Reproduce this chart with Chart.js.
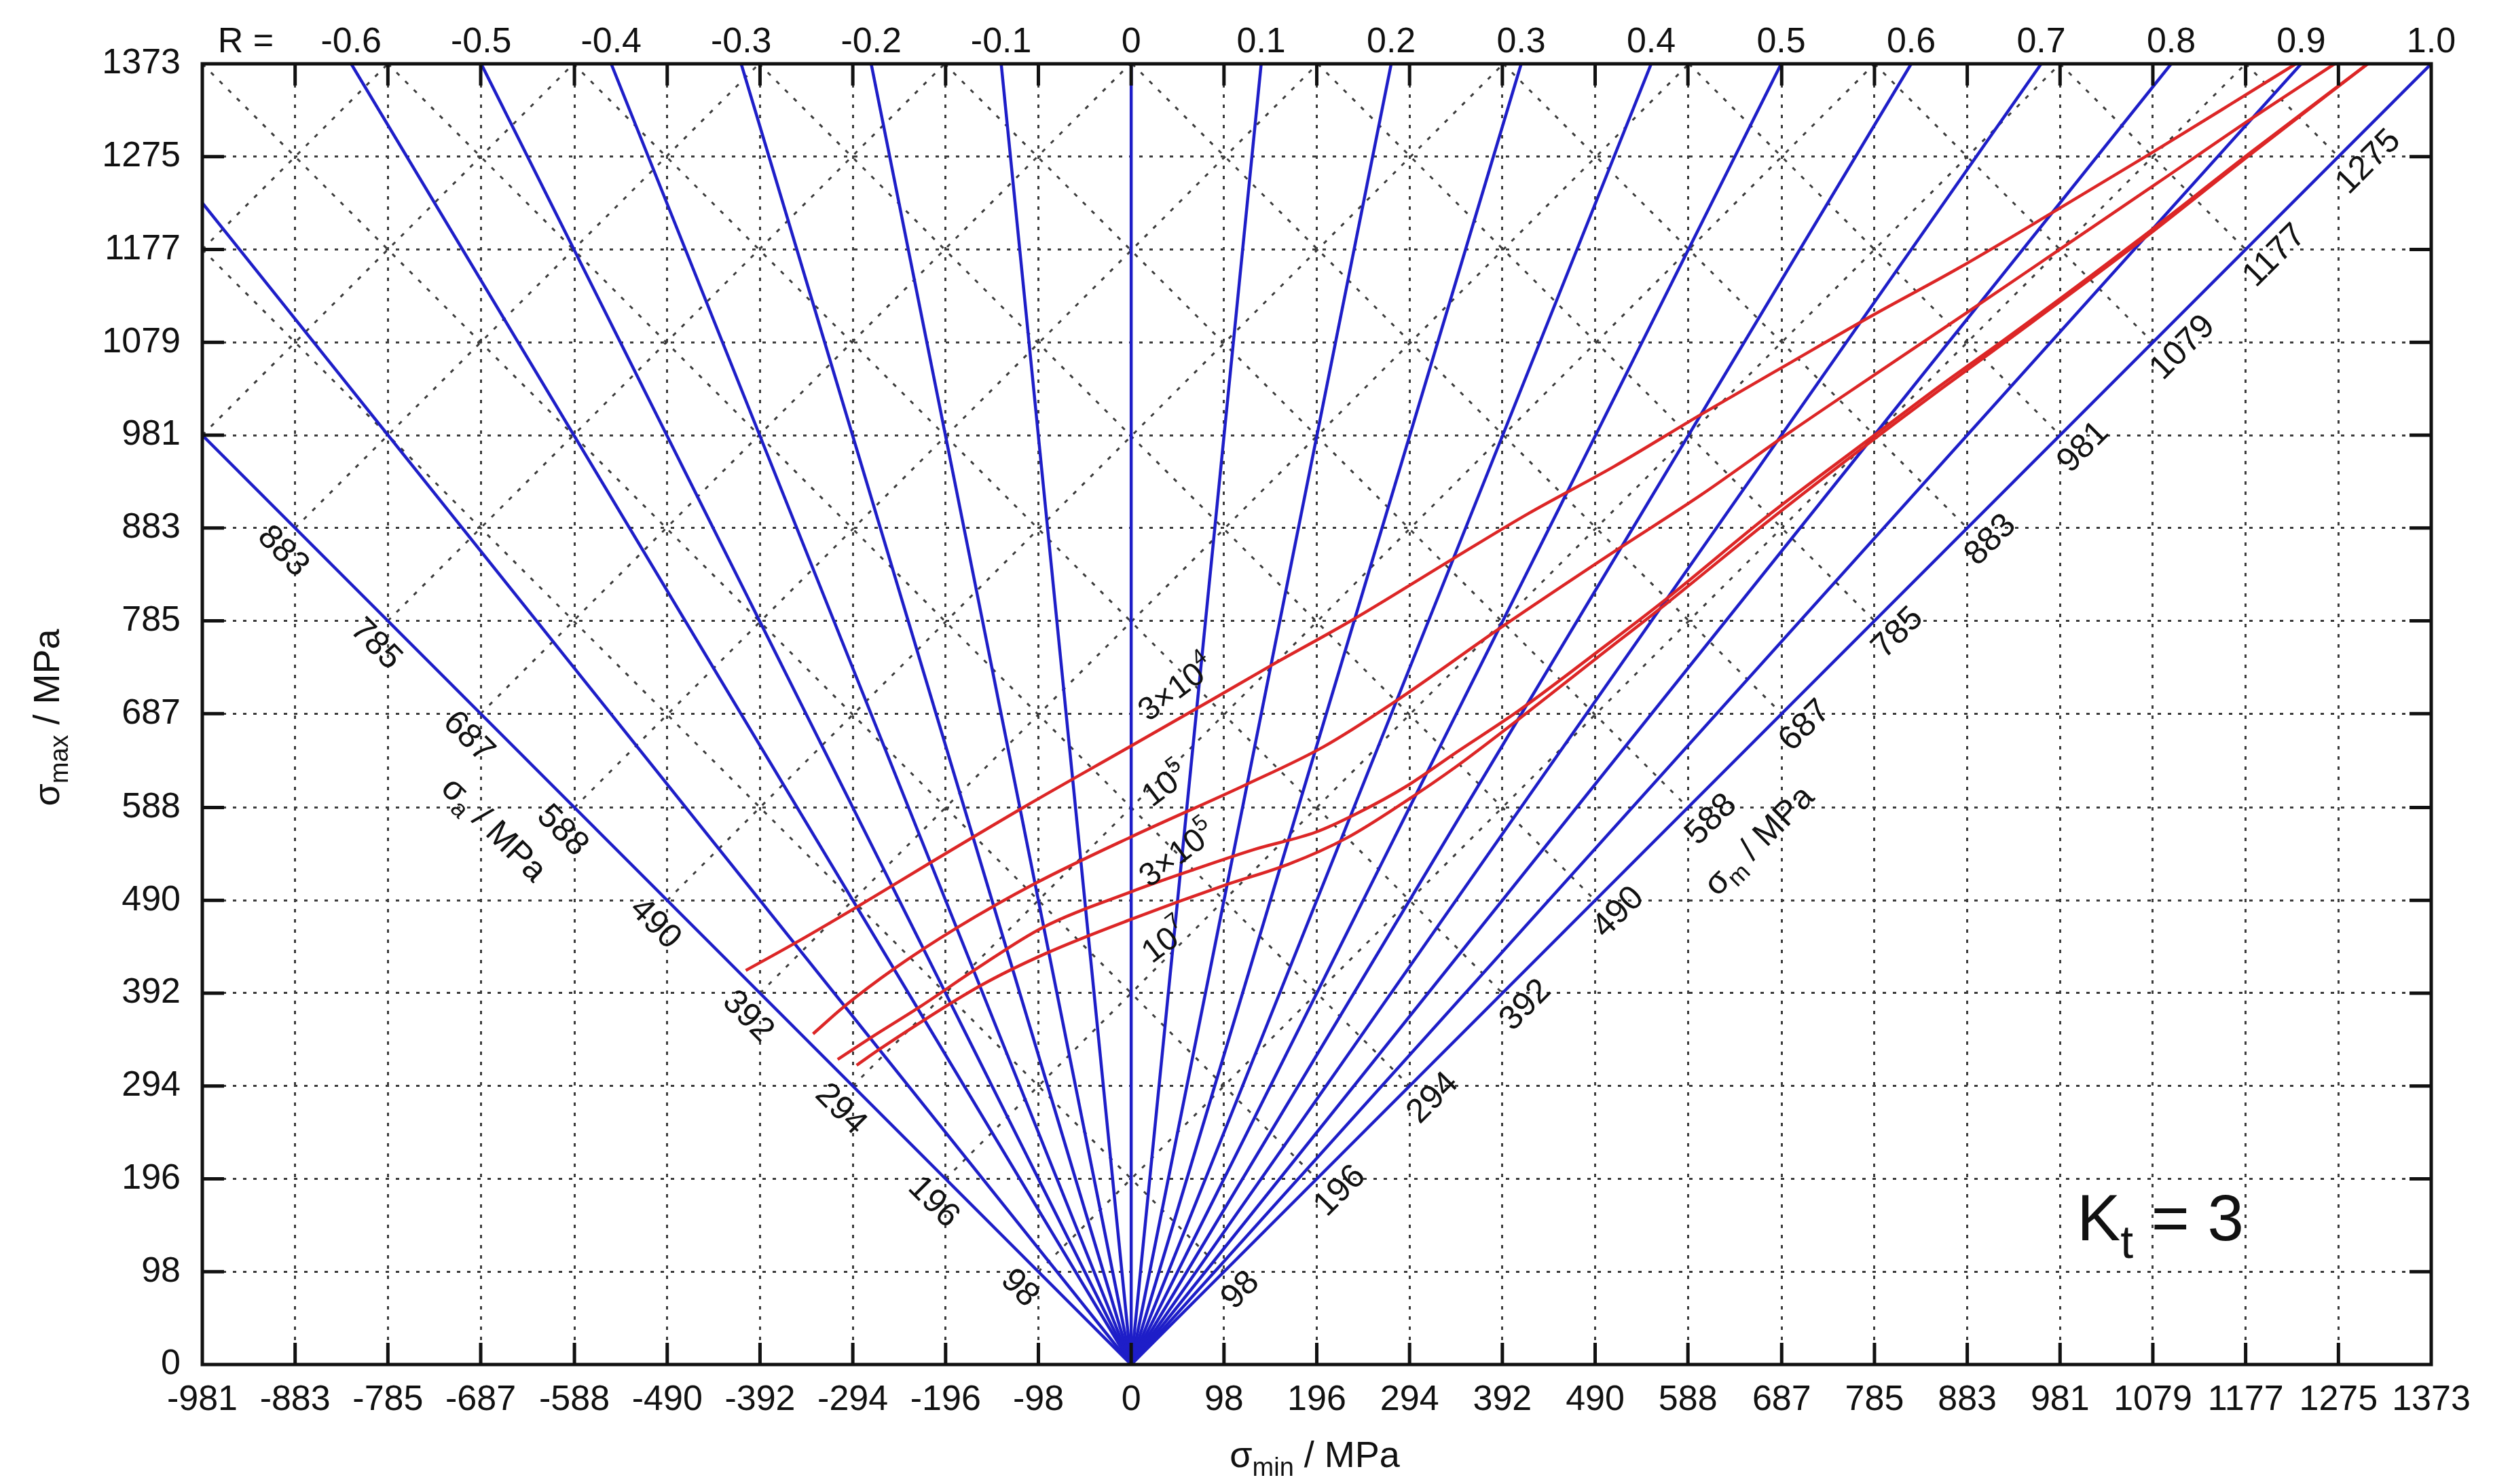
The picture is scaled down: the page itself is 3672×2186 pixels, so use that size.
<!DOCTYPE html>
<html>
<head>
<meta charset="utf-8">
<script src="https://cdn.jsdelivr.net/npm/chart.js@4.4.1/dist/chart.umd.min.js"></script>
<style>
html,body{margin:0;padding:0;background:#fff;overflow:hidden}
#wrap{width:3672px;height:2186px;position:relative}
</style>
</head>
<body>
<div id="wrap"><canvas id="c" width="3672" height="2186"></canvas></div>
<script>
// ---- tick labels (MPa) ----
const xTicks = [-981,-883,-785,-687,-588,-490,-392,-294,-196,-98,0,98,196,294,392,490,588,687,785,883,981,1079,1177,1275,1373];
const yTicks = [0,98,196,294,392,490,588,687,785,883,981,1079,1177,1275,1373];
// ---- stress ratio rays ----
const rValues = [-1,-0.8,-0.6,-0.5,-0.4,-0.3,-0.2,-0.1,0,0.1,0.2,0.3,0.4,0.5,0.6,0.7,0.8,0.9,1.0];
const rTopLabels = ['-0.6','-0.5','-0.4','-0.3','-0.2','-0.1','0','0.1','0.2','0.3','0.4','0.5','0.6','0.7','0.8','0.9','1.0'];
// ---- diagonal (amplitude / mean) grid ----
const sigmaAGrid = [98,196,294,392,490,588,687,785,883,981,1079];
const sigmaALabels = [98,196,294,392,490,588,687,785,883];
const sigmaMGrid = [98,196,294,392,490,588,687,785,883,981,1079,1177,1275];
const sigmaMLabels = [98,196,294,392,490,588,687,785,883,981,1079,1177,1275];
// ---- constant life curves: [sigma_min, sigma_max] ----
const curve3e4 = [[-407,416],[-353,446],[-288,484],[-210,531],[-114,588],[0,653],[84,701],[148,738],[232,785],[339,850],[419,898],[510,948],[602,1003],[697,1058],[784,1108],[875,1158],[978,1219],[1076,1278],[1159,1329],[1230,1373]];
const curve1e5 = [[-336,349],[-303,378],[-250,418],[-184,461],[-101,508],[0,557],[121,612],[203,652],[279,700],[392,779],[510,858],[602,918],[697,985],[784,1044],[879,1108],[982,1178],[1085,1248],[1183,1315],[1271,1373]];
const curve3e5 = [[-310,322],[-275,345],[-221,379],[-163,418],[-94,461],[0,499],[62,521],[131,544],[195,562],[237,581],[290,610],[343,646],[409,690],[492,752],[565,808],[675,898],[777,975],[857,1035],[924,1083],[1061,1185],[1183,1280],[1306,1373]];
const curve1e7 = [[-290,316],[-264,334],[-159,400],[-90,434],[0,470],[99,506],[166,528],[228,556],[289,594],[343,631],[409,681],[492,746],[565,803],[675,892],[777,971],[857,1031],[924,1080],[1061,1182],[1183,1278],[1306,1373]];
const curveLabels = [
  {base:'3×10', exp:'4', at:[47,715]},
  {base:'10', exp:'5', at:[35,613]},
  {base:'3×10', exp:'5', at:[48,540]},
  {base:'10', exp:'7', at:[35,448]}
];

const FONT = '"Liberation Sans", Arial, sans-serif';
const xMin = xTicks[0], xMax = xTicks[xTicks.length-1], yMax = yTicks[yTicks.length-1];
const BLUE = '#1e1ec8', RED = '#dc2626', INK = '#111', GRID = '#3c3c3c';

function toPts(arr){ return arr.map(p => ({x:p[0], y:p[1]})); }
function rayEnd(r){
  const xt = r*yMax;
  if (xt >= xMin) return {x:xt, y:yMax};
  return {x:xMin, y:xMin/r};
}

const datasets = [];
[curve3e4, curve1e5, curve3e5, curve1e7].forEach(c => datasets.push({
  data: toPts(c), showLine:true, borderColor:RED, borderWidth:4.5, pointRadius:0,
  fill:false, cubicInterpolationMode:'monotone'
}));
rValues.forEach(r => datasets.push({
  data:[{x:0,y:0}, rayEnd(r)], showLine:true, borderColor:BLUE, borderWidth:4.5, pointRadius:0, fill:false
}));

function richText(ctx, parts, cx, cy, ang, align){
  ctx.save();
  ctx.translate(cx, cy);
  ctx.rotate(ang || 0);
  let total = 0;
  parts.forEach(p => { ctx.font = p.s + 'px ' + FONT; p.w = ctx.measureText(p.t).width; total += p.w; });
  let xx = align === 'left' ? 0 : -total/2;
  const base = parts[0].s * 0.36;
  ctx.textAlign = 'left';
  ctx.textBaseline = 'alphabetic';
  ctx.fillStyle = INK;
  parts.forEach(p => { ctx.font = p.s + 'px ' + FONT; ctx.fillText(p.t, xx, base + (p.dy || 0)); xx += p.w; });
  ctx.restore();
}

const extras = {
  id:'extras',
  beforeDatasetsDraw(chart){
    const {ctx, chartArea:a, scales:{x, y}} = chart;
    ctx.save();
    ctx.beginPath(); ctx.rect(a.left, a.top, a.right-a.left, a.bottom-a.top); ctx.clip();
    ctx.strokeStyle = GRID; ctx.lineWidth = 3; ctx.setLineDash([6,12]);
    const seg = (x0,y0,x1,y1) => { ctx.beginPath(); ctx.moveTo(x.getPixelForValue(x0), y.getPixelForValue(y0)); ctx.lineTo(x.getPixelForValue(x1), y.getPixelForValue(y1)); ctx.stroke(); };
    sigmaMGrid.forEach(m => { const x0 = Math.max(2*m - yMax, xMin); seg(x0, 2*m - x0, m, m); });
    sigmaAGrid.forEach(s => { const x0 = Math.max(-s, xMin), x1 = yMax - 2*s; if (x1 > x0) seg(x0, x0 + 2*s, x1, yMax); });
    ctx.restore();
  },
  afterDatasetsDraw(chart){
    const {ctx, chartArea:a, scales:{x, y}} = chart;
    ctx.save();
    // frame
    ctx.strokeStyle = INK; ctx.lineWidth = 5; ctx.setLineDash([]);
    ctx.strokeRect(a.left, a.top, a.right-a.left, a.bottom-a.top);
    // inner ticks
    const TL = 32;
    ctx.beginPath();
    xTicks.slice(1,-1).forEach(v => { const px = x.getPixelForValue(v);
      ctx.moveTo(px, a.bottom); ctx.lineTo(px, a.bottom - TL);
      ctx.moveTo(px, a.top); ctx.lineTo(px, a.top + TL); });
    yTicks.slice(1,-1).forEach(v => { const py = y.getPixelForValue(v);
      ctx.moveTo(a.left, py); ctx.lineTo(a.left + TL, py);
      ctx.moveTo(a.right, py); ctx.lineTo(a.right - TL, py); });
    ctx.stroke();
    ctx.restore();

    // R labels on top
    richText(ctx, [{t:'R =', s:52}], 362, 58, 0);
    rTopLabels.forEach(t => richText(ctx, [{t:t, s:52}], x.getPixelForValue(parseFloat(t)*yMax), 58, 0));

    const r2 = Math.SQRT1_2;
    // sigma_a labels (below the R=-1 line)
    sigmaALabels.forEach(v => {
      const px = x.getPixelForValue(-v), py = y.getPixelForValue(v);
      const ax = px + 33*(-r2) + (-30)*r2, ay = py + 33*r2 + (-30)*r2;
      richText(ctx, [{t:String(v), s:50}], ax, ay, Math.PI/4, 'left');
    });
    {
      const s = 619, px = x.getPixelForValue(-s), py = y.getPixelForValue(s);
      richText(ctx, [{t:'σ', s:50},{t:'a', s:36, dy:11},{t:' / MPa', s:50}], px - 104*r2, py + 104*r2, Math.PI/4);
    }
    // sigma_m labels (below the R=1 line)
    sigmaMLabels.forEach(v => {
      const px = x.getPixelForValue(v), py = y.getPixelForValue(v);
      const ax = px + 33*r2 + (-30)*r2, ay = py + 33*r2 - (-30)*r2;
      richText(ctx, [{t:String(v), s:50}], ax, ay, -Math.PI/4, 'left');
    });
    {
      const s = 608, px = x.getPixelForValue(s), py = y.getPixelForValue(s);
      richText(ctx, [{t:'σ', s:50},{t:'m', s:36, dy:11},{t:' / MPa', s:50}], px + 106*r2, py + 106*r2, -Math.PI/4);
    }
    // curve labels
    curveLabels.forEach(l => {
      richText(ctx, [{t:l.base, s:48},{t:l.exp, s:33, dy:-21}], x.getPixelForValue(l.at[0]), y.getPixelForValue(l.at[1]), -37*Math.PI/180);
    });
    // Kt = 3
    richText(ctx, [{t:'K', s:96},{t:'t', s:68, dy:26},{t:' = 3', s:96}], x.getPixelForValue(1087), y.getPixelForValue(156), 0);
    // axis titles
    richText(ctx, [{t:'σ', s:54},{t:'min', s:38, dy:13},{t:' / MPa', s:54}], (a.left+a.right)/2 - 3, 2142, 0);
    richText(ctx, [{t:'σ', s:54},{t:'max', s:38, dy:13},{t:' / MPa', s:54}], 68, (a.top+a.bottom)/2 + 5, -Math.PI/2);
  }
};

Chart.defaults.font.family = FONT;
Chart.defaults.color = INK;

new Chart(document.getElementById('c'), {
  type:'scatter',
  data:{datasets},
  plugins:[extras],
  options:{
    responsive:false, animation:false, devicePixelRatio:1,
    layout:{padding:{top:94, right:91, left:0, bottom:0}},
    plugins:{legend:{display:false}, tooltip:{enabled:false}},
    elements:{line:{borderCapStyle:'butt'}},
    scales:{
      x:{type:'linear', min:xMin, max:xMax,
        afterBuildTicks: s => { s.ticks = xTicks.map(v => ({value:v})); },
        afterFit: s => { s.height = 176; },
        ticks:{autoSkip:false, maxRotation:0, minRotation:0, padding:21, font:{size:52}, color:INK, callback: v => String(v)},
        grid:{color:GRID, lineWidth:3, drawTicks:false},
        border:{display:false, dash:[5,10]}
      },
      y:{type:'linear', min:0, max:yMax,
        afterBuildTicks: s => { s.ticks = yTicks.map(v => ({value:v})); },
        afterFit: s => { s.width = 298; },
        ticks:{autoSkip:false, padding:32, font:{size:52}, color:INK, callback: v => String(v)},
        grid:{color:GRID, lineWidth:3, drawTicks:false},
        border:{display:false, dash:[5,10]}
      }
    }
  }
});
</script>
</body>
</html>
